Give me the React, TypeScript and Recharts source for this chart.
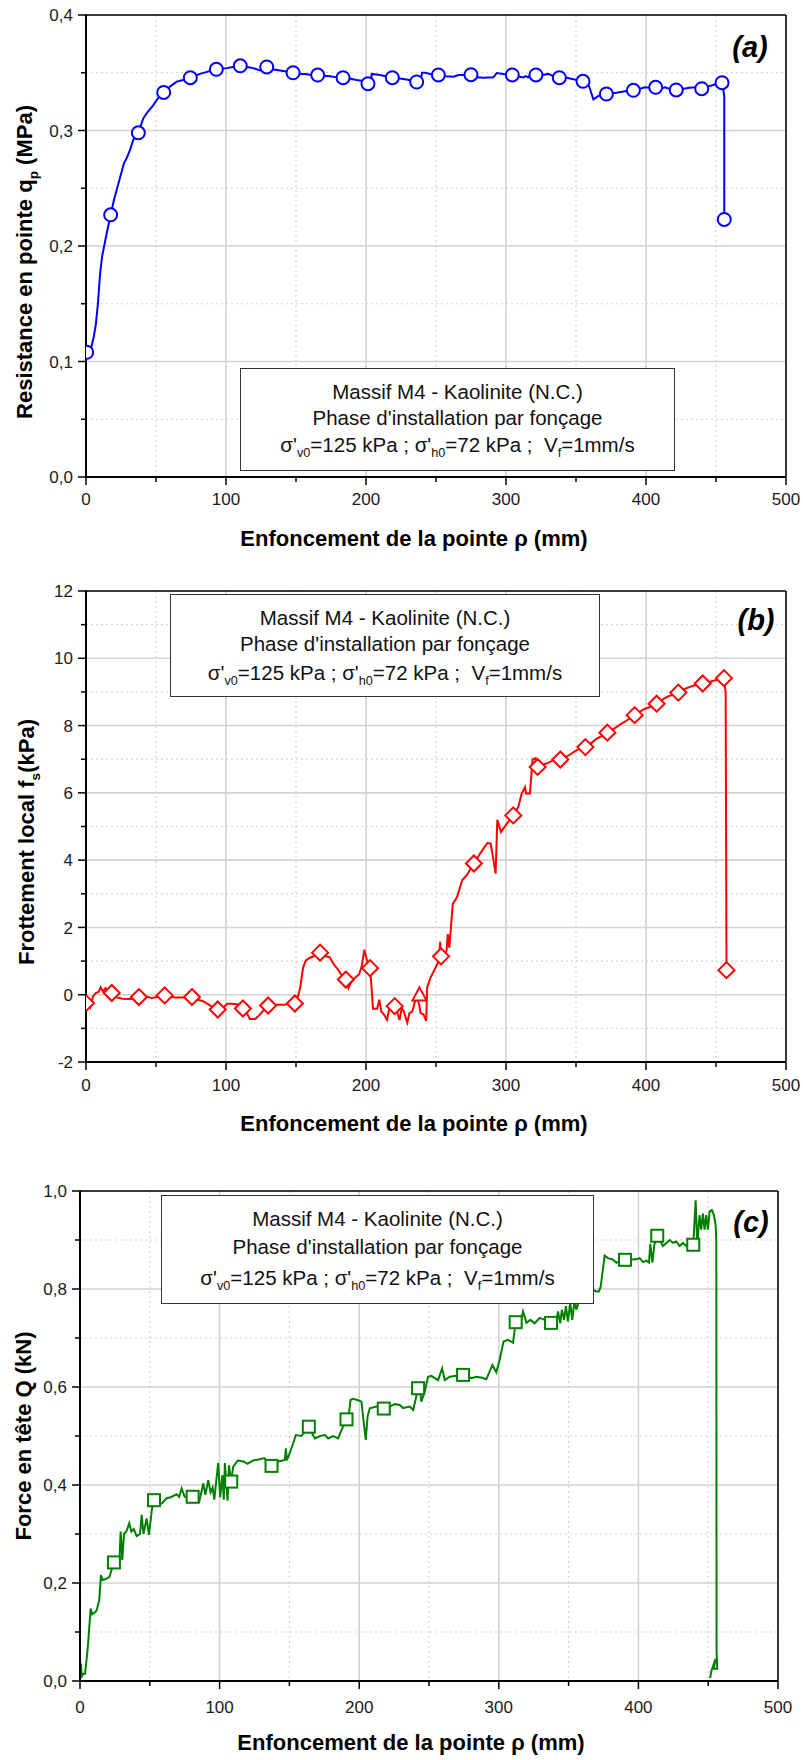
import { ComposedChart, Line, Scatter, XAxis, YAxis, CartesianGrid } from 'recharts'

const POLICE = '"Liberation Sans", Arial, Helvetica, sans-serif'

// Abscisses communes : enfoncement (mm)
const X_MAJEURS = [0, 100, 200, 300, 400, 500]
const X_MINEURS = [50, 150, 250, 350, 450]

// (a) résistance en pointe qp (MPa)
const QP_MAJEURS = [0, 0.1, 0.2, 0.3, 0.4]
const QP_MINEURS = [0.05, 0.15, 0.25, 0.35]
const courbeQp = [
  [0, 0.102], [1.5, 0.106], [3.5, 0.111], [5.5, 0.121], [7, 0.132], [8.5, 0.15], [10, 0.175], [11.5, 0.191],
  [14.8, 0.211], [17.6, 0.227], [20, 0.24], [21.9, 0.2485], [23.8, 0.257], [27.1, 0.2716], [29, 0.276],
  [31.4, 0.283], [33.8, 0.292], [37.4, 0.298], [40.9, 0.3105], [44, 0.316], [48.1, 0.322], [52, 0.329],
  [55.5, 0.333], [60, 0.338], [64.8, 0.3423], [70, 0.344], [74.5, 0.3457], [81.4, 0.349], [87, 0.351],
  [93.1, 0.353], [100.5, 0.354], [105, 0.355], [110.2, 0.356], [115, 0.355], [119.5, 0.354], [124.3, 0.352],
  [129.1, 0.355], [133, 0.353], [138.6, 0.352], [143, 0.351], [147.9, 0.35], [152, 0.349], [156.6, 0.349],
  [161, 0.348], [165.5, 0.348], [170, 0.3475], [174.3, 0.347], [179, 0.346], [183.6, 0.3457], [188, 0.345],
  [193.3, 0.3437], [197, 0.343], [201.4, 0.3405], [203.5, 0.342], [204.1, 0.349], [210, 0.348], [214, 0.347],
  [218.8, 0.3457], [224.3, 0.345], [230, 0.344], [236.2, 0.342], [239, 0.343], [240, 0.35], [242.1, 0.35],
  [246, 0.349], [251.7, 0.348], [257, 0.347], [262.4, 0.3466], [266.2, 0.348], [270, 0.348], [275, 0.3483],
  [279, 0.346], [283.8, 0.3457], [291, 0.346], [293.3, 0.3497], [298, 0.349], [304.5, 0.348], [308, 0.347],
  [312.4, 0.346], [314, 0.347], [316, 0.346], [318, 0.349], [321.4, 0.348], [326, 0.348], [330.2, 0.349],
  [334, 0.347], [338.1, 0.3457], [342, 0.346], [345.7, 0.345], [350, 0.344], [355, 0.3426], [359.3, 0.3385],
  [362.4, 0.327], [366, 0.33], [371.7, 0.3316], [375, 0.332], [379, 0.3327], [385, 0.334], [391, 0.3348],
  [395, 0.336], [399.3, 0.3374], [403, 0.337], [406.9, 0.3374], [410, 0.336], [413.6, 0.3374], [417, 0.336],
  [421.6, 0.3351], [426, 0.336], [431, 0.337], [435.6, 0.3374], [439.8, 0.336], [444, 0.338], [449.7, 0.34],
  [454.3, 0.3414], [455.9, 0.33], [455.9, 0.223],
]
const marqueursQp = [
  [0.5, 0.108], [17.6, 0.227], [37.4, 0.298], [55.5, 0.333], [74.5, 0.3457], [93.1, 0.353], [110.2, 0.356],
  [129.1, 0.355], [147.9, 0.35], [165.5, 0.348], [183.6, 0.3457], [201.4, 0.3405], [218.8, 0.3457],
  [236.2, 0.342], [251.7, 0.3481], [275, 0.3483], [304.5, 0.3481], [321.4, 0.3481], [338.1, 0.3457],
  [355, 0.3426], [371.7, 0.3316], [391, 0.3348], [406.9, 0.3374], [421.6, 0.3351], [439.8, 0.3362],
  [454.3, 0.3414], [455.9, 0.223],
]

// (b) frottement local fs (kPa)
const FS_MAJEURS = [-2, 0, 2, 4, 6, 8, 10, 12]
const FS_MINEURS = [-1, 1, 3, 5, 7, 9, 11]
const courbeFs = [
  [0, -0.15], [1.5, -0.3], [3, -0.38], [5, -0.05], [7, 0.05], [9, 0.08], [10.5, 0.22], [12, 0.1], [14, 0.2],
  [16, 0.12], [18.4, 0.05], [22, -0.08], [26, -0.12], [30, -0.13], [34, -0.12], [37.8, -0.07], [41, -0.1],
  [44, -0.06], [47, -0.1], [52, -0.06], [56.2, -0.02], [60, -0.06], [64, -0.08], [70, -0.08], [75.7, -0.07],
  [80, -0.15], [84, -0.2], [88, -0.3], [91, -0.38], [94.1, -0.44], [98, -0.38], [101, -0.27], [104, -0.27],
  [108, -0.28], [112.1, -0.41], [115, -0.55], [117, -0.72], [121, -0.72], [124, -0.6], [127, -0.45],
  [130.1, -0.32], [134, -0.3], [138, -0.3], [142, -0.3], [145, -0.25], [149.2, -0.26], [151, -0.1], [153, 0.2],
  [155, 0.8], [157, 1.02], [160, 1.1], [163, 1.15], [167.2, 1.25], [170, 1.15], [174, 1.12], [177, 0.9],
  [180, 0.75], [183, 0.55], [185.6, 0.45], [187.5, 0.2], [189, 0.35], [192, 0.5], [195, 0.6], [197, 0.85],
  [198.8, 1.34], [200.5, 1.05], [202.9, 0.79], [204, 0.2], [205, -0.42], [208, -0.42], [209.5, -0.15],
  [211, -0.5], [213, -0.6], [215, -0.75], [216.5, -0.45], [220.5, -0.34], [222.5, -0.55], [224, -0.75],
  [225.5, -0.4], [227, -0.5], [229.5, -0.83], [231, -0.55], [233, -0.5], [235, -0.2], [236.5, -0.1],
  [238, -0.3], [239, -0.55], [241, -0.58], [243, -0.78], [243.7, 0.22], [246, 0.5], [249, 0.75], [252, 1.0],
  [253, 1.57], [253.6, 1.14], [256, 1.2], [257.5, 1.3], [258.4, 1.8], [259.5, 1.4], [262, 2.7], [265, 2.9],
  [268.7, 3.4], [272, 3.55], [274, 3.7], [277.1, 3.9], [281.4, 4.19], [284, 4.35], [286.7, 4.51], [289, 4.5],
  [290.9, 4.04], [292.6, 3.6], [293.8, 5.2], [296.4, 4.84], [300.5, 5.08], [305.2, 5.33], [308.8, 5.58],
  [311.2, 5.98], [313.6, 6.17], [314.3, 5.98], [317.1, 5.98], [319, 6.99], [321.2, 7.03], [322.6, 6.77],
  [326, 6.85], [329.1, 6.87], [333.8, 6.97], [338.8, 6.99], [342, 7.05], [345.7, 7.14], [350.5, 7.27],
  [356.7, 7.36], [360, 7.45], [364.8, 7.61], [367.1, 7.66], [372.4, 7.79], [377, 7.9], [381.4, 8.03],
  [386.2, 8.15], [391.9, 8.31], [395, 8.4], [399.3, 8.5], [402.9, 8.55], [407.6, 8.65], [411, 8.75],
  [414.8, 8.85], [419, 8.92], [423.1, 8.98], [427, 9.08], [431.4, 9.15], [435, 9.2], [440.5, 9.25],
  [444, 9.28], [448.1, 9.33], [452, 9.37], [455.7, 9.41], [456.9, 8.95], [457.5, 0.73],
]
const marqueursFs = [
  [0, -0.25], [18.4, 0.05], [37.8, -0.07], [56.2, -0.02], [75.7, -0.07], [94.1, -0.44], [112.1, -0.41],
  [130.1, -0.32], [149.2, -0.26], [167.2, 1.25], [185.6, 0.45], [202.9, 0.79], [220.5, -0.34], [253.6, 1.14],
  [277.1, 3.9], [305.2, 5.33], [322.6, 6.77], [338.8, 6.99], [356.7, 7.36], [372.4, 7.79], [391.9, 8.31],
  [407.6, 8.65], [423.1, 8.98], [440.5, 9.25], [455.7, 9.41], [457.5, 0.73],
]
const triangleFs = [[238.2, -0.02]]

// (c) force en tête Q (kN)
const Q_MAJEURS = [0, 0.2, 0.4, 0.6, 0.8, 1.0]
const Q_MINEURS = [0.1, 0.3, 0.5, 0.7, 0.9]
const courbeQ = [
  [0, 0.055], [0.4, 0.005], [0.8, 0.035], [1.2, 0.008], [2.4, 0.015], [3.6, 0.015], [5.2, 0.057], [6, 0.084],
  [7.6, 0.148], [8.8, 0.136], [10.5, 0.14], [11.9, 0.144], [13.8, 0.165], [15, 0.216], [16.2, 0.206],
  [18.5, 0.208], [21, 0.212], [24.3, 0.242], [26.2, 0.247], [28.3, 0.25], [29.1, 0.305], [30.3, 0.247],
  [31.5, 0.3], [33.2, 0.305], [35.3, 0.322], [36.8, 0.305], [38.5, 0.31], [40.6, 0.296], [43, 0.3],
  [44.2, 0.339], [45.5, 0.3], [47.7, 0.332], [49.4, 0.298], [51.5, 0.35], [53, 0.369], [55.5, 0.36],
  [58.4, 0.362], [62, 0.373], [65, 0.375], [69.2, 0.381], [71, 0.376], [72.8, 0.393], [75, 0.376],
  [80.7, 0.376], [85.4, 0.366], [88.3, 0.403], [89.8, 0.38], [91.9, 0.41], [93.5, 0.385], [95, 0.395],
  [96.2, 0.37], [97.3, 0.4], [99, 0.445], [100.4, 0.375], [102, 0.42], [103, 0.37], [103.8, 0.445],
  [105.7, 0.368], [106.7, 0.44], [108.3, 0.407], [109.7, 0.437], [113, 0.45], [117, 0.448], [120, 0.443],
  [124, 0.45], [128, 0.452], [132, 0.455], [137.2, 0.439], [142, 0.448], [146.7, 0.451], [147.5, 0.475],
  [148.2, 0.45], [151.5, 0.475], [154.6, 0.502], [158.6, 0.5], [160.5, 0.507], [163.9, 0.519], [168.2, 0.495],
  [172, 0.5], [175.4, 0.502], [177.8, 0.495], [181.3, 0.5], [184.9, 0.495], [187.3, 0.512], [190.9, 0.534],
  [192.8, 0.55], [193.8, 0.5735], [195.7, 0.576], [199.2, 0.573], [201.6, 0.57], [203.3, 0.526],
  [204.7, 0.492], [206, 0.54], [207.6, 0.5566], [212.4, 0.56], [217.6, 0.556], [221.9, 0.56], [225.5, 0.565],
  [229.1, 0.5633], [231.5, 0.557], [236.3, 0.56], [238.7, 0.553], [242.2, 0.5975], [243.8, 0.587],
  [244.5, 0.57], [246.9, 0.59], [249.3, 0.621], [251.7, 0.6226], [256.5, 0.614], [259.4, 0.638],
  [261.3, 0.614], [264.9, 0.621], [268.5, 0.6226], [274.4, 0.6247], [280.3, 0.618], [283.9, 0.621],
  [288, 0.619], [291.1, 0.616], [295.4, 0.645], [298.2, 0.63], [300.6, 0.655], [303.4, 0.6927],
  [306.6, 0.6961], [310.2, 0.6904], [311.4, 0.717], [312.1, 0.7323], [315, 0.7234], [317.4, 0.754],
  [319.8, 0.731], [322.6, 0.737], [325.7, 0.73], [329.3, 0.741], [332.9, 0.737], [337.4, 0.7309],
  [341.2, 0.734], [342.4, 0.754], [344, 0.73], [345.2, 0.758], [346.7, 0.737], [348.1, 0.765], [349.5, 0.734],
  [351.2, 0.7715], [352.6, 0.737], [354.3, 0.778], [355.5, 0.758], [358, 0.78], [362, 0.79], [366, 0.8],
  [369.8, 0.795], [371.7, 0.795], [373, 0.805], [375.8, 0.868], [378.2, 0.863], [381.8, 0.86], [384.2, 0.8535],
  [386.6, 0.8576], [390.4, 0.8596], [393.7, 0.862], [396.1, 0.86], [399, 0.861], [400.9, 0.863],
  [403.3, 0.855], [405.7, 0.858], [407.6, 0.854], [408.5, 0.892], [410, 0.854], [411.4, 0.89], [413.5, 0.9087],
  [415.2, 0.9], [417.6, 0.8876], [420, 0.894], [422.4, 0.9], [424.8, 0.894], [427.1, 0.897], [429.5, 0.8876],
  [431.9, 0.894], [434.3, 0.8876], [436.7, 0.89], [439.3, 0.8903], [441, 0.981], [442.2, 0.89], [443.8, 0.951],
  [445, 0.921], [446.2, 0.954], [447.4, 0.921], [448.6, 0.951], [449.8, 0.921], [451, 0.958], [452.6, 0.961],
  [454.1, 0.951], [455.3, 0.931], [455.8, 0.9], [456, 0.06], [456.5, 0.025], [454, 0.025], [455.3, 0.045],
  [452.2, 0.02], [451.4, 0.006],
]
const marqueursQ = [
  [24.3, 0.242], [53, 0.369], [80.7, 0.376], [108.3, 0.407], [137.2, 0.439], [163.9, 0.519], [190.9, 0.534],
  [217.6, 0.556], [242.2, 0.5975], [274.4, 0.6247], [312.1, 0.7323], [337.4, 0.7309], [390.4, 0.8596],
  [413.5, 0.9087], [439.3, 0.8903],
]

const pts = (a: number[][]) => a.map(([x, y]) => ({ x, y }))
const virgule = (v: number) => v.toFixed(1).replace('.', ',')
const entier = (v: number) => String(v)

function TickY({ x, y, payload, majeurs, fmt, droite }: any) {
  const maj = majeurs.includes(payload.value)
  const l = maj ? 8 : 5
  return (
    <g>
      <line x1={x - l} y1={y} x2={x} y2={y} stroke="#000" strokeWidth={1.5} />
      {maj && !droite && (
        <text x={x - 13} y={y} dy="0.36em" textAnchor="end" fontSize={17} fontFamily={POLICE} fill="#1a1a1a">
          {fmt(payload.value)}
        </text>
      )}
    </g>
  )
}

function TickX({ x, y, payload, decal }: any) {
  const maj = X_MAJEURS.includes(payload.value)
  return (
    <g>
      <line x1={x} y1={y} x2={x} y2={y + (maj ? 8 : 5)} stroke="#000" strokeWidth={1.5} />
      {maj && (
        <text x={x} y={y + decal} dy="0.36em" textAnchor="middle" fontSize={17} fontFamily={POLICE} fill="#1a1a1a">
          {payload.value}
        </text>
      )}
    </g>
  )
}

const rond = (c: string) => (p: any) => <circle cx={p.cx} cy={p.cy} r={6.5} fill="#fff" stroke={c} strokeWidth={2} />
const losange = (c: string) => (p: any) => (
  <polygon points={`${p.cx},${p.cy - 8} ${p.cx + 8},${p.cy} ${p.cx},${p.cy + 8} ${p.cx - 8},${p.cy}`} fill="#fff" stroke={c} strokeWidth={2} />
)
const triangle = (c: string) => (p: any) => (
  <polygon points={`${p.cx},${p.cy - 8} ${p.cx + 7},${p.cy + 5} ${p.cx - 7},${p.cy + 5}`} fill="#fff" stroke={c} strokeWidth={2} />
)
const carre = (c: string) => (p: any) => (
  <rect x={p.cx - 6} y={p.cy - 6} width={12} height={12} fill="#fff" stroke={c} strokeWidth={2} />
)

function Panneau({ haut, hauteur, marge, yDomaine, yMaj, yMin, fmt, couleur, courbe, series, decalX }: any) {
  const yGrad = [...yMaj, ...yMin].sort((a: number, b: number) => a - b)
  const xGrad = [...X_MAJEURS, ...X_MINEURS].sort((a, b) => a - b)
  return (
    <div style={{ position: 'absolute', left: 0, top: haut }}>
      <ComposedChart width={803} height={hauteur} margin={marge}>
        {/* quadrillage secondaire pointillé, puis principal continu */}
        <CartesianGrid horizontalValues={yMin} verticalValues={X_MINEURS} stroke="#d4d4d4" strokeWidth={1.2} strokeDasharray="2 3" />
        <CartesianGrid horizontalValues={yMaj} verticalValues={X_MAJEURS} stroke="#d2d2d2" strokeWidth={1.6} />
        <XAxis
          type="number" dataKey="x" domain={[0, 500]} ticks={xGrad} interval={0} allowDataOverflow
          height={30} tickSize={0} tickMargin={0} tickLine={false}
          axisLine={{ stroke: '#000', strokeWidth: 2 }}
          tick={(p: any) => <TickX {...p} decal={decalX} />}
        />
        <XAxis
          xAxisId="haut" orientation="top" type="number" dataKey="x" domain={[0, 500]} height={1}
          tick={false} tickLine={false} axisLine={{ stroke: '#000', strokeWidth: 1.5 }}
        />
        <YAxis
          type="number" domain={yDomaine} ticks={yGrad} interval={0} allowDataOverflow width={60}
          tickSize={0} tickMargin={0} tickLine={false} axisLine={{ stroke: '#000', strokeWidth: 2 }}
          tick={(p: any) => <TickY {...p} majeurs={yMaj} fmt={fmt} />}
        />
        <YAxis
          yAxisId="droite" orientation="right" type="number" domain={yDomaine} ticks={yGrad} interval={0} width={1}
          tickSize={0} tickMargin={0} tickLine={false} axisLine={{ stroke: '#000', strokeWidth: 1.5 }}
          tick={(p: any) => <TickY {...p} majeurs={yMaj} droite />}
        />
        <Line
          data={pts(courbe)} dataKey="y" type="linear" stroke={couleur} strokeWidth={2}
          dot={false} activeDot={false} isAnimationActive={false}
        />
        {series.map((s: any, i: number) => (
          <Scatter key={i} data={pts(s.data)} dataKey="y" shape={s.forme} isAnimationActive={false} />
        ))}
      </ComposedChart>
    </div>
  )
}

const texteAbs = (left: number, top: number, extra: any = {}): any => ({
  position: 'absolute', left, top, transform: 'translate(-50%, -50%)', whiteSpace: 'nowrap', ...extra,
})
const indice = { fontSize: '0.62em', position: 'relative', top: '0.42em' } as const

function Encadre({ left, top, width, height, lignes }: any) {
  const contenu = [
    'Massif M4 - Kaolinite (N.C.)',
    "Phase d'installation par fonçage",
    <>
      σ'<span style={indice}>v0</span>=125 kPa ; σ'<span style={indice}>h0</span>=72 kPa ;{'\u00a0'} V
      <span style={indice}>f</span>=1mm/s
    </>,
  ]
  return (
    <div style={{
      position: 'absolute', left, top, width, height, boxSizing: 'border-box',
      background: '#fff', border: '1.5px solid #333', fontSize: 20.5, color: '#111',
    }}>
      {contenu.map((c, i) => (
        <div key={i} style={{ position: 'absolute', left: 0, right: 0, top: lignes[i] - 12, height: 24, lineHeight: '24px', textAlign: 'center', whiteSpace: 'nowrap' }}>
          {c}
        </div>
      ))}
    </div>
  )
}

export default function App() {
  const titreX = 'Enfoncement de la pointe ρ (mm)'
  const gras = { fontWeight: 700, fontSize: 22, color: '#000' }
  const lettre = { fontWeight: 700, fontStyle: 'italic', fontSize: 29, color: '#000' }
  return (
    <div style={{ position: 'absolute', left: 0, top: 0, width: 803, height: 1760, background: '#fff', fontFamily: POLICE, overflow: 'hidden' }}>
      <Panneau
        haut={0} hauteur={560} marge={{ top: 14, right: 16, bottom: 53, left: 26 }}
        yDomaine={[0, 0.4]} yMaj={QP_MAJEURS} yMin={QP_MINEURS} fmt={virgule} couleur="#0000ff"
        courbe={courbeQp} series={[{ data: marqueursQp, forme: rond('#0000ff') }]} decalX={22}
      />
      <Panneau
        haut={560} hauteur={560} marge={{ top: 30, right: 16, bottom: 28, left: 26 }}
        yDomaine={[-2, 12]} yMaj={FS_MAJEURS} yMin={FS_MINEURS} fmt={entier} couleur="#ff0000"
        courbe={courbeFs}
        series={[{ data: marqueursFs, forme: losange('#ff0000') }, { data: triangleFs, forme: triangle('#ff0000') }]}
        decalX={23}
      />
      <Panneau
        haut={1130} hauteur={630} marge={{ top: 60, right: 24, bottom: 49, left: 20 }}
        yDomaine={[0, 1]} yMaj={Q_MAJEURS} yMin={Q_MINEURS} fmt={virgule} couleur="#008000"
        courbe={courbeQ} series={[{ data: marqueursQ, forme: carre('#008000') }]} decalX={26}
      />

      <div style={texteAbs(25, 262, { ...gras, transform: 'translate(-50%, -50%) rotate(-90deg)' })}>
        Resistance en pointe q<span style={indice}>p</span> (MPa)
      </div>
      <div style={texteAbs(27, 842, { ...gras, transform: 'translate(-50%, -50%) rotate(-90deg)' })}>
        Frottement local f<span style={indice}>s</span>(kPa)
      </div>
      <div style={texteAbs(24, 1436, { ...gras, transform: 'translate(-50%, -50%) rotate(-90deg)' })}>
        Force en tête Q (kN)
      </div>

      <div style={texteAbs(414, 539, gras)}>{titreX}</div>
      <div style={texteAbs(414, 1124, gras)}>{titreX}</div>
      <div style={texteAbs(411, 1743, gras)}>{titreX}</div>

      <div style={texteAbs(750, 47, lettre)}>(a)</div>
      <div style={texteAbs(756, 620, lettre)}>(b)</div>
      <div style={texteAbs(751, 1222, lettre)}>(c)</div>

      <Encadre left={240} top={368} width={435} height={103} lignes={[23, 49, 76]} />
      <Encadre left={170} top={594} width={430} height={103} lignes={[23, 49, 78]} />
      <Encadre left={161} top={1195} width={433} height={109} lignes={[23, 51, 82]} />
    </div>
  )
}
